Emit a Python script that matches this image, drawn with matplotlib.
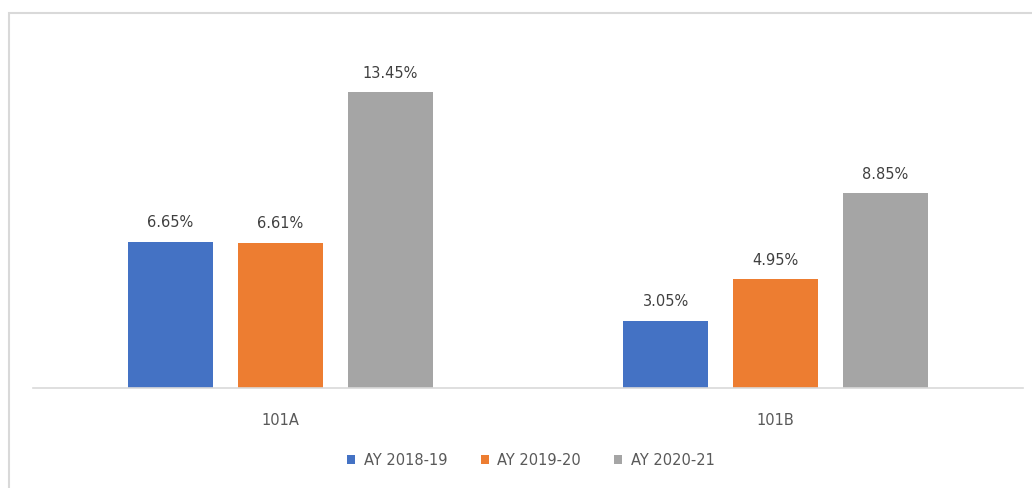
import numpy as np
import matplotlib
matplotlib.use('Agg')
import matplotlib.pyplot as plt
from matplotlib.patches import Rectangle

# Data
categories = ['101A', '101B']
series = ['AY 2018-19', 'AY 2019-20', 'AY 2020-21']
values = {
    'AY 2018-19': [6.65, 3.05],
    'AY 2019-20': [6.61, 4.95],
    'AY 2020-21': [13.45, 8.85],
}
colors = ['#4472C4', '#ED7D31', '#A5A5A5']

plt.rcParams['font.family'] = ['DejaVu Sans']
txt = '#595959'

W, H = 1032, 489
fig = plt.figure(figsize=(W / 100, H / 100), dpi=100)

# chart border (cropped on right and bottom)
fig.patches.append(Rectangle((9 / W, -0.1), 1.2, (H - 14) / H + 0.1,
                             transform=fig.transFigure, fill=False,
                             edgecolor='#d9d9d9', linewidth=1.5))

ax = fig.add_axes([33 / W, (H - 389) / H, 990 / W, 352 / H])

x = np.arange(len(categories))
width = 0.172
offset = 0.222
for i, (name, color) in enumerate(zip(series, colors)):
    pos = x + (i - 1) * offset
    bars = ax.bar(pos, values[name], width=width, color=color, label=name)
    for b, v in zip(bars, values[name]):
        ax.annotate(f'{v:.2f}%', (b.get_x() + b.get_width() / 2, v),
                    xytext=(0, 9), textcoords='offset points',
                    ha='center', va='bottom', fontsize=10.5, color='#404040')

ax.set_xlim(-0.5, 1.5)
ax.set_ylim(0, 16)
ax.set_xticks(x)
ax.set_xticklabels(categories, fontsize=10.5, color=txt)
ax.tick_params(axis='x', length=0, pad=17)
ax.set_yticks([])
for s in ['top', 'right', 'left']:
    ax.spines[s].set_visible(False)
ax.spines['bottom'].set_color('#d9d9d9')
ax.spines['bottom'].set_linewidth(1.2)

fig.legend(loc='center', bbox_to_anchor=(531 / W, (H - 461) / H), ncol=3,
           frameon=False, fontsize=10.5, handlelength=0.55, handleheight=0.55,
           handletextpad=0.6, columnspacing=2.25, labelcolor=txt)

fig.savefig('out.png', dpi=100)
